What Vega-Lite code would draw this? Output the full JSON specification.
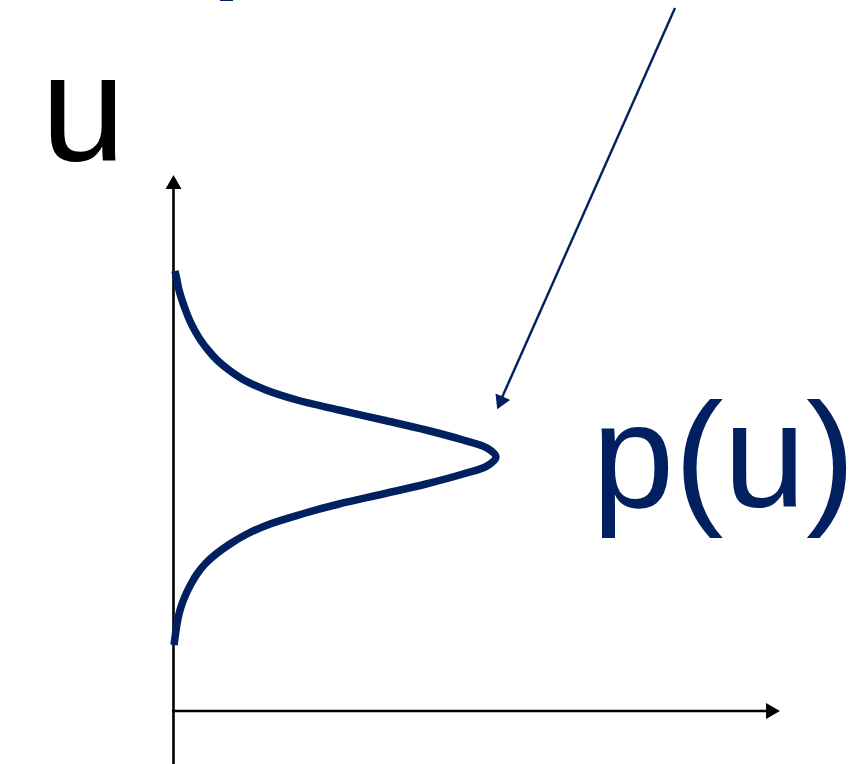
{
  "$schema": "https://vega.github.io/schema/vega-lite/v6.json",
  "width": 857,
  "height": 764,
  "autosize": "none",
  "padding": 0,
  "background": "white",
  "config": {"view": {"stroke": null}},
  "datasets": {
    "curve": [
      {"i": 0, "x": 175, "y": 271},
      {"i": 1, "x": 177, "y": 280},
      {"i": 2, "x": 179, "y": 290},
      {"i": 3, "x": 182, "y": 300},
      {"i": 4, "x": 185.5, "y": 310},
      {"i": 5, "x": 189.5, "y": 320},
      {"i": 6, "x": 194.5, "y": 330},
      {"i": 7, "x": 200.5, "y": 340},
      {"i": 8, "x": 208, "y": 350},
      {"i": 9, "x": 217, "y": 360},
      {"i": 10, "x": 229, "y": 370},
      {"i": 11, "x": 244, "y": 380},
      {"i": 12, "x": 266, "y": 390},
      {"i": 13, "x": 297, "y": 400},
      {"i": 14, "x": 339, "y": 410},
      {"i": 15, "x": 383, "y": 420},
      {"i": 16, "x": 426, "y": 430},
      {"i": 17, "x": 463, "y": 440},
      {"i": 18, "x": 487, "y": 448},
      {"i": 19, "x": 496, "y": 457},
      {"i": 20, "x": 487, "y": 466},
      {"i": 21, "x": 463, "y": 474},
      {"i": 22, "x": 426, "y": 484},
      {"i": 23, "x": 383, "y": 494},
      {"i": 24, "x": 339, "y": 504},
      {"i": 25, "x": 302, "y": 514},
      {"i": 26, "x": 270, "y": 524},
      {"i": 27, "x": 247, "y": 534},
      {"i": 28, "x": 230, "y": 544},
      {"i": 29, "x": 216, "y": 554},
      {"i": 30, "x": 205, "y": 564},
      {"i": 31, "x": 197, "y": 574},
      {"i": 32, "x": 191, "y": 584},
      {"i": 33, "x": 186, "y": 594},
      {"i": 34, "x": 182, "y": 604},
      {"i": 35, "x": 179, "y": 614},
      {"i": 36, "x": 177, "y": 624},
      {"i": 37, "x": 175.5, "y": 634},
      {"i": 38, "x": 174, "y": 645}
    ],
    "axes": [
      {"name": "vertical", "x": 173.5, "y": 188, "x2": 173.5, "y2": 764},
      {"name": "horizontal", "x": 172, "y": 711, "x2": 770, "y2": 711}
    ],
    "pointer": [
      {"x": 675, "y": 8, "x2": 500, "y2": 402}
    ],
    "heads_v": [{"x": 173.5, "y": 182}],
    "heads_h": [{"x": 773, "y": 711}],
    "heads_p": [{"x": 500, "y": 403}],
    "labels_black": [{"x": 41, "y": 161, "t": "u"}],
    "labels_blue": [
      {"x": 592, "y": 507, "t": "p(u)"},
      {"x": 210, "y": -30, "t": "p"}
    ]
  },
  "resolve": {"scale": {"x": "shared", "y": "shared"}},
  "layer": [
    {
      "data": {"name": "axes"},
      "mark": {"type": "rule", "color": "black", "strokeWidth": 2.6},
      "encoding": {
        "x": {"field": "x", "type": "quantitative", "scale": {"domain": [0, 857], "nice": false, "zero": false}, "axis": null},
        "y": {"field": "y", "type": "quantitative", "scale": {"domain": [0, 764], "nice": false, "zero": false, "reverse": true}, "axis": null},
        "x2": {"field": "x2"},
        "y2": {"field": "y2"}
      }
    },
    {
      "data": {"name": "heads_v"},
      "mark": {"type": "point", "shape": "triangle-up", "filled": true, "color": "black", "opacity": 1, "size": 256, "angle": 0},
      "encoding": {
        "x": {"field": "x", "type": "quantitative"},
        "y": {"field": "y", "type": "quantitative"}
      }
    },
    {
      "data": {"name": "heads_h"},
      "mark": {"type": "point", "shape": "triangle-up", "filled": true, "color": "black", "opacity": 1, "size": 256, "angle": 90},
      "encoding": {
        "x": {"field": "x", "type": "quantitative"},
        "y": {"field": "y", "type": "quantitative"}
      }
    },
    {
      "data": {"name": "curve"},
      "mark": {"type": "line", "color": "#002060", "strokeWidth": 7.5, "interpolate": "catmull-rom"},
      "encoding": {
        "x": {"field": "x", "type": "quantitative"},
        "y": {"field": "y", "type": "quantitative"},
        "order": {"field": "i", "type": "quantitative"}
      }
    },
    {
      "data": {"name": "pointer"},
      "mark": {"type": "rule", "color": "#002060", "strokeWidth": 2.4},
      "encoding": {
        "x": {"field": "x", "type": "quantitative"},
        "y": {"field": "y", "type": "quantitative"},
        "x2": {"field": "x2"},
        "y2": {"field": "y2"}
      }
    },
    {
      "data": {"name": "heads_p"},
      "mark": {"type": "point", "shape": "triangle-up", "filled": true, "color": "#002060", "opacity": 1, "size": 256, "angle": 204},
      "encoding": {
        "x": {"field": "x", "type": "quantitative"},
        "y": {"field": "y", "type": "quantitative"}
      }
    },
    {
      "data": {"name": "labels_black"},
      "mark": {"type": "text", "font": "Liberation Sans", "fontSize": 152, "align": "left", "baseline": "alphabetic", "color": "black"},
      "encoding": {
        "x": {"field": "x", "type": "quantitative"},
        "y": {"field": "y", "type": "quantitative"},
        "text": {"field": "t"}
      }
    },
    {
      "data": {"name": "labels_blue"},
      "mark": {"type": "text", "font": "Liberation Sans", "fontSize": 148, "align": "left", "baseline": "alphabetic", "color": "#002060"},
      "encoding": {
        "x": {"field": "x", "type": "quantitative"},
        "y": {"field": "y", "type": "quantitative"},
        "text": {"field": "t"}
      }
    }
  ]
}
